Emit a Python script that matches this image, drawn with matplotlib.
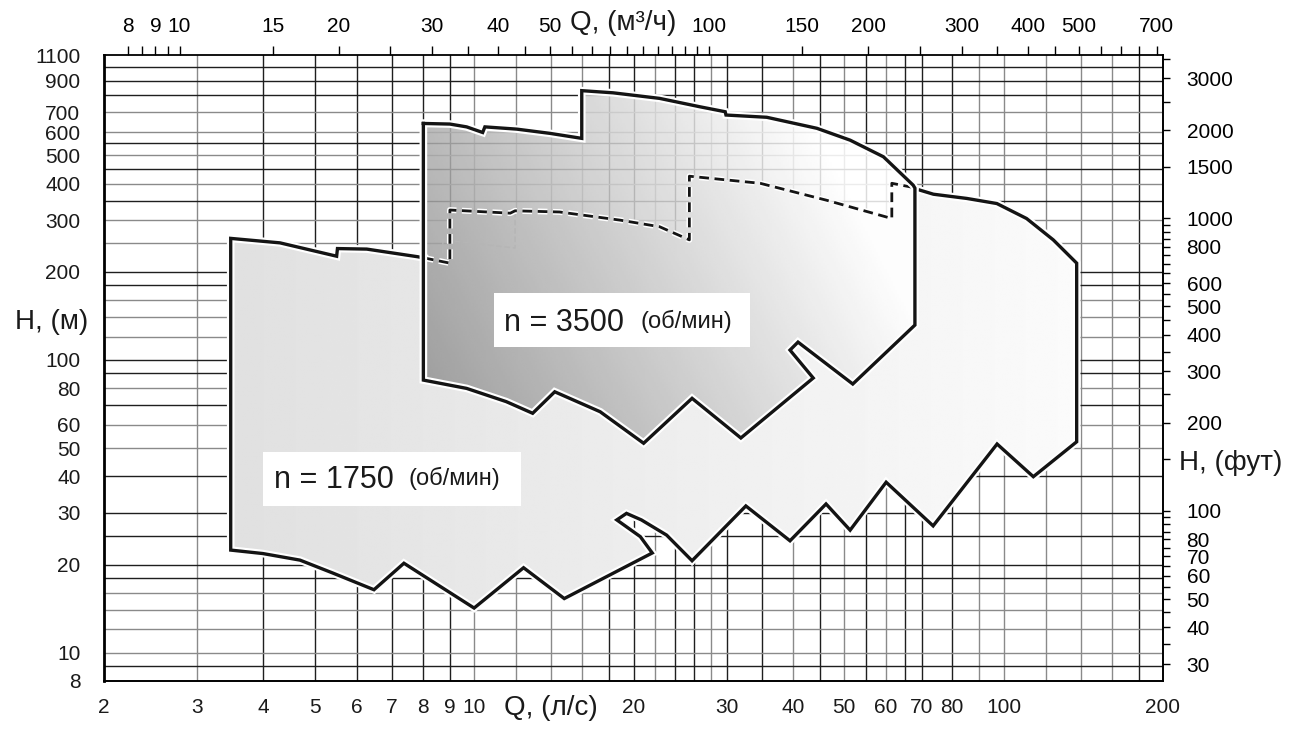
import numpy as np
import matplotlib
matplotlib.use('Agg')
import matplotlib.pyplot as plt
import matplotlib.patheffects as pe
from matplotlib.patches import Polygon, Rectangle
from matplotlib.ticker import NullLocator

plt.rcParams['font.family'] = ['Liberation Sans', 'DejaVu Sans']

############################################################
# Data: Q in l/s, H in m

# n = 1750 field: top edge (solid / hidden part under 3500 field / solid), then bottom edge
q1750_top_left = [3.47, 4.30, 5.50, 5.52, 6.27, 7.83, 8.04]
h1750_top_left = [260, 251, 226, 240, 239, 225, 223]
q1750_hidden = [8.04, 9.0, 9.0, 11.7, 11.95, 14.5, 18.9, 22.4, 25.5, 25.5, 34.7, 46.3, 61.5, 61.5, 66.6, 68.0]
h1750_hidden = [223, 214, 325, 317, 323, 320, 300, 285, 257, 424, 401, 351, 304, 401, 390, 386]
q1750_top_right = [69.5, 73.7, 85.2, 97.1, 110.5, 124.1, 137.4]
h1750_top_right = [380, 368, 356, 342, 304, 257, 214]
q1750_bottom = [137.4, 113.8, 97.2, 73.6, 60.0, 51.3, 46.2, 39.5, 32.6, 25.8, 23.1, 20.7, 19.4,
                18.6, 20.6, 21.7, 14.8, 12.4, 10.0, 7.37, 6.47, 5.41, 4.69, 3.99, 3.47, 3.47]
h1750_bottom = [52.5, 39.9, 51.6, 27.1, 38.2, 26.2, 32.2, 24.1, 31.7, 20.6, 25.2, 28.4, 29.9,
                28.4, 24.9, 21.9, 15.3, 19.5, 14.2, 20.2, 16.4, 18.7, 20.7, 21.8, 22.4, 260]

# n = 3500 field outline
q3500 = [8.02, 9.0, 9.68, 10.38, 10.48, 12.04, 13.9, 15.97, 15.97, 18.3, 22.4, 26.7, 29.8, 29.9,
         35.7, 44.4, 51.3, 59.3, 67.5, 68.0, 68.0, 51.9, 40.9, 39.5, 43.7, 31.9, 25.8, 20.9,
         17.3, 14.2, 12.9, 11.5, 9.68, 8.02, 8.02]
h3500 = [642, 639, 625, 598, 625, 614, 594, 571, 831, 817, 782, 732, 704, 686,
         674, 618, 563, 494, 395, 386, 131.5, 82.7, 115, 108, 86.7, 54.1, 73.9, 51.9,
         66.5, 77.8, 65.7, 72.0, 79.9, 85.3, 642]

# faint hidden contour
q_ghost = [8.73, 8.73, 11.95, 11.95]
h_ghost = [232, 257, 241, 322]

# grid
grid_q = [3, 4, 5, 6, 7, 8, 9, 10, 12, 14, 16, 18, 20, 22, 24, 26, 28, 30, 35, 40, 45, 50, 55,
          60, 65, 70, 80, 90, 100, 120, 140, 160, 180]
grid_h = [9, 10, 12, 14, 16, 18, 20, 25, 30, 40, 50, 60, 70, 80, 90, 100, 120, 140, 160, 180,
          200, 250, 300, 350, 400, 450, 500, 550, 600, 700, 800, 900, 1000]
grey_q = [3, 10, 12, 14, 16, 22, 28, 40, 50, 60, 90, 100, 120, 140, 160]
grey_h = [10, 12, 14, 16, 50, 60, 80, 120, 140, 160, 250, 300, 400, 500, 600, 700]

# ticks
bottom_labels = [2, 3, 4, 5, 6, 7, 8, 9, 10, 20, 30, 40, 50, 60, 70, 80, 100, 200]
left_labels = [8, 10, 20, 30, 40, 50, 60, 80, 100, 200, 300, 400, 500, 600, 700, 900, 1100]
top_ticks = [8, 8.5, 9, 9.5, 10, 15, 20, 25, 30, 35, 40, 45, 50, 55, 60, 65, 70, 75, 80, 85, 90,
             95, 100, 150, 200, 250, 300, 350, 400, 450, 500, 550, 600, 650, 700]
top_labels = [8, 9, 10, 15, 20, 30, 40, 50, 100, 150, 200, 300, 400, 500, 700]
right_ticks = [30, 35, 40, 45, 50, 55, 60, 65, 70, 75, 80, 85, 90, 95, 100, 150, 200, 250, 300,
               350, 400, 450, 500, 550, 600, 650, 700, 750, 800, 850, 900, 950, 1000, 1500,
               2000, 2500, 3000, 3500]
right_labels = [30, 40, 50, 60, 70, 80, 100, 200, 300, 400, 500, 600, 800, 1000, 1500, 2000, 3000]

############################################################
# Figure

W, H = 1298, 729
X0, X1, Y0, Y1 = 104, 1163, 681, 55

def ax_frac(x, y):
    return (x - X0) / (X1 - X0), (Y0 - y) / (Y0 - Y1)

fig = plt.figure(figsize=(W / 100, H / 100), dpi=100)
ax = fig.add_axes([X0 / W, 1 - Y0 / H, (X1 - X0) / W, (Y0 - Y1) / H])
ax.set_xscale('log')
ax.set_yscale('log')
ax.set_xlim(2, 200)
ax.set_ylim(8, 1100)

for q in grid_q:
    ax.axvline(q, color='#8a8a8a' if q in grey_q else '#1e1e1e', lw=1.0, zorder=0.5)
for h in grid_h:
    ax.axhline(h, color='#8a8a8a' if h in grey_h else '#1e1e1e', lw=1.0, zorder=0.5)

# fills
q1750_all = q1750_top_left + q1750_hidden[1:] + q1750_top_right + q1750_bottom
h1750_all = h1750_top_left + h1750_hidden[1:] + h1750_top_right + h1750_bottom
poly1750 = Polygon(np.column_stack([q1750_all, h1750_all]), closed=True, transform=ax.transData)
poly3500 = Polygon(np.column_stack([q3500, h3500]), closed=True, transform=ax.transData)

uu, ww = np.meshgrid(np.linspace(0, 1, 500), np.linspace(0, 1, 300))
shade1 = np.clip(0.88 + 0.13 * (uu - 0.128), 0, 1)
im1 = ax.imshow(shade1, cmap='gray', vmin=0, vmax=1, origin='lower', extent=(0, 1, 0, 1),
                transform=ax.transAxes, aspect='auto', zorder=1, interpolation='bilinear')
im1.set_clip_path(poly1750)

shade2 = np.clip(0.58 + 0.86 * (uu - 0.302) + 0.26 * (ww - 0.497), 0, 1)
im2 = ax.imshow(shade2, cmap='gray', vmin=0, vmax=1, origin='lower', extent=(0, 1, 0, 1),
                transform=ax.transAxes, aspect='auto', zorder=2, alpha=0.85, interpolation='bilinear')
im2.set_clip_path(poly3500)
ax.set_xlim(2, 200)
ax.set_ylim(8, 1100)

# outlines
halo = [pe.Stroke(linewidth=5.5, foreground='white'), pe.Normal()]
ax.plot(q_ghost, h_ghost, color='#b5b5b5', lw=1.0, linestyle=(0, (4, 2)), zorder=2.5)
ax.plot(q1750_top_right + q1750_bottom + q1750_top_left[1:],
        h1750_top_right + h1750_bottom + h1750_top_left[1:],
        color='#141414', lw=2.4, solid_joinstyle='miter', path_effects=halo, zorder=3)
ax.plot(q1750_hidden, h1750_hidden, color='#141414', lw=2.0, linestyle=(0, (3.5, 2.0)),
        path_effects=[pe.Stroke(linewidth=4.2, foreground='white'), pe.Normal()], zorder=3)
ax.plot(q3500, h3500, color='#141414', lw=2.4, solid_joinstyle='miter', path_effects=halo, zorder=4)

# speed labels
for (bx0, by0, bx1, by1), (tx, ty, big), (sx, sy, small) in [
        ((494, 293, 750, 347), (504, 331, 'n = 3500'), (640, 328, '(об/мин)')),
        ((263, 452, 521, 506), (274, 488, 'n = 1750'), (409, 485, '(об/мин)'))]:
    a0 = ax_frac(bx0, by1)
    a1 = ax_frac(bx1, by0)
    ax.add_patch(Rectangle(a0, a1[0] - a0[0], a1[1] - a0[1], transform=ax.transAxes,
                           facecolor='white', edgecolor='none', zorder=5))
    ax.text(*ax_frac(tx, ty), big, transform=ax.transAxes, fontsize=22, color='#1a1a1a',
            ha='left', va='baseline', zorder=6)
    ax.text(*ax_frac(sx, sy), small, transform=ax.transAxes, fontsize=17, color='#1a1a1a',
            ha='left', va='baseline', zorder=6)

# bottom / left axes
ax.xaxis.set_minor_locator(NullLocator())
ax.yaxis.set_minor_locator(NullLocator())
ax.set_xticks(bottom_labels, labels=[str(v) for v in bottom_labels])
ax.set_yticks(left_labels, labels=[str(v) for v in left_labels])
ax.tick_params(axis='x', length=0, labelsize=15, pad=12, colors='#1a1a1a')
ax.tick_params(axis='y', length=0, labelsize=15, pad=17, colors='#1a1a1a')
ax.spines['left'].set_linewidth(2.0)
ax.spines['bottom'].set_linewidth(1.4)
ax.spines['top'].set_visible(False)
ax.spines['right'].set_visible(False)
for s in ax.spines.values():
    s.set_zorder(7)

# top axis, m3/h
axt = ax.twiny()
axt.set_xscale('log')
axt.set_xlim(2 * 3.6, 200 * 3.6)
axt.xaxis.set_minor_locator(NullLocator())
axt.set_xticks(top_ticks, labels=[str(int(t)) if t in top_labels else '' for t in top_ticks])
axt.tick_params(axis='x', direction='out', length=6.5, width=1.0, labelsize=15, pad=7)
for k in ['left', 'right', 'bottom']:
    axt.spines[k].set_visible(False)
axt.spines['top'].set_linewidth(1.3)

# right axis, ft
axr = ax.twinx()
axr.set_yscale('log')
axr.set_ylim(8 / 0.3048, 1100 / 0.3048)
axr.yaxis.set_minor_locator(NullLocator())
axr.set_yticks(right_ticks, labels=[str(t) if t in right_labels else '' for t in right_ticks])
axr.tick_params(axis='y', direction='out', length=5, width=1.0, labelsize=15, pad=12)
for k in ['left', 'top', 'bottom']:
    axr.spines[k].set_visible(False)
axr.spines['right'].set_linewidth(1.4)

# axis titles
fig.text(52 / W, 1 - 322 / H, 'H, (м)', fontsize=20, ha='center', va='center', color='#1a1a1a')
fig.text(551 / W, 1 - 708 / H, 'Q, (л/с)', fontsize=20, ha='center', va='center', color='#1a1a1a')
fig.text(623 / W, 1 - 23 / H, 'Q, (м³/ч)', fontsize=20, ha='center', va='center', color='#1a1a1a')
fig.text(1231 / W, 1 - 463 / H, 'H, (фут)', fontsize=20, ha='center', va='center', color='#1a1a1a')

fig.savefig('out.png', dpi=100)
